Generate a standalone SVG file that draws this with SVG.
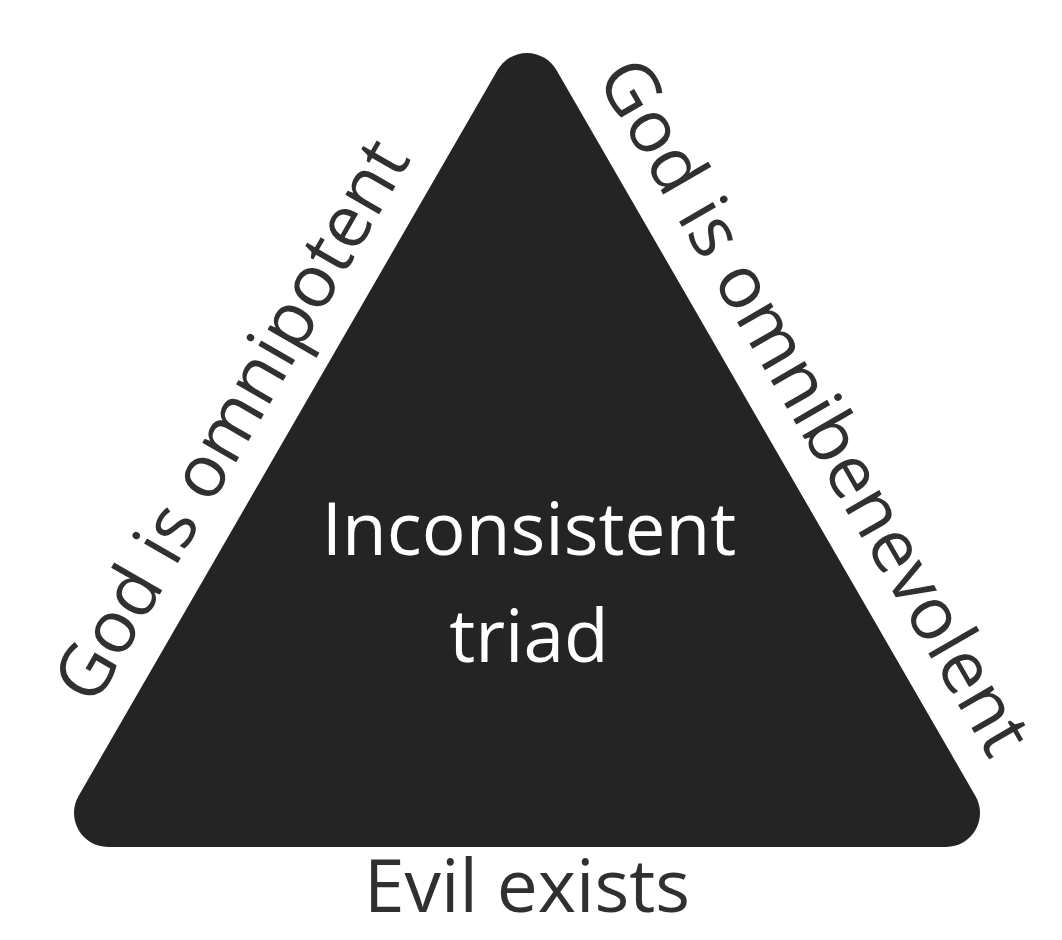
<svg xmlns="http://www.w3.org/2000/svg" width="1062" height="940" viewBox="0 0 1062 940">
  <style>
    .lbl { font-family: "Open Sans", "Liberation Sans", sans-serif; font-size: 73px; fill: #303030; text-anchor: middle; }
    .inner { font-family: "Open Sans", "Liberation Sans", sans-serif; font-size: 73px; fill: #ffffff; text-anchor: middle; }
  </style>
  <rect width="1062" height="940" fill="#ffffff"/>
  <g id="triad">
    <path d="M108,847 L946,847 A34,34 0 0 0 975.44,796 L556.44,70 A34,34 0 0 0 497.56,70 L78.56,796 A34,34 0 0 0 108,847 Z" fill="#242424"/>
    <text class="inner" x="529" y="555">Inconsistent</text>
    <text class="inner" x="529" y="662">triad</text>
  </g>
  <g id="label-omnipotent">
    <text class="lbl" transform="translate(253,433) rotate(-60)" x="0" y="0">God is omnipotent</text>
  </g>
  <g id="label-omnibenevolent">
    <text class="lbl" transform="translate(793,419) rotate(60)" x="0" y="0">God is omnibenevolent</text>
  </g>
  <g id="label-evil">
    <text class="lbl" x="527" y="912">Evil exists</text>
  </g>
  <g id="connectors"></g>
</svg>
